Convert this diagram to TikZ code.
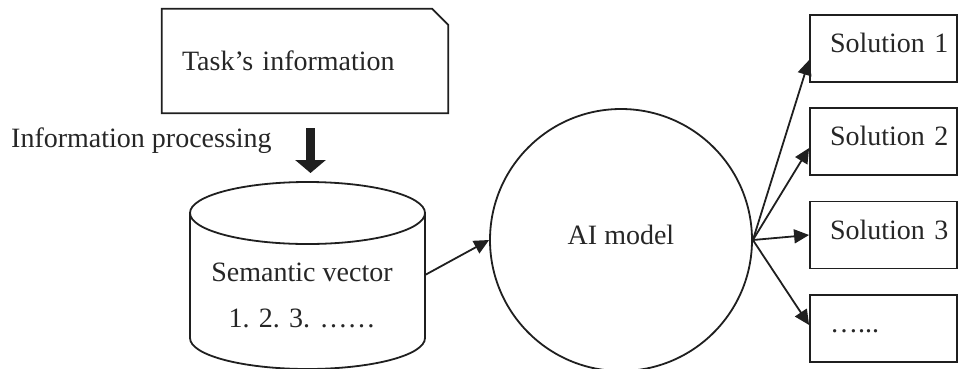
\documentclass[tikz,border=0pt]{standalone}
\usepackage{fontspec}
\setmainfont{Liberation Serif}
\usetikzlibrary{arrows.meta}
\begin{document}
\begin{tikzpicture}[x=1pt,y=-1pt,
  ink/.style={draw=black!88, line width=1.8pt},
  txt/.style={font=\fontsize{28}{46}\selectfont, text=black!85},
  solbox/.style={ink, txt, minimum width=147pt, minimum height=67pt, text width=137pt, align=left, inner xsep=5pt, inner ysep=0pt, text height=19pt, text depth=11pt},
  conn/.style={draw=black!88, line width=1.8pt, -{Triangle[length=15pt,width=14pt]}},
  blockarrow/.style={draw=black!88, line width=9pt, -{Triangle[width=30pt,length=13pt]}}]
\useasboundingbox (0,0) rectangle (959,368);

% task box
\node[txt, minimum height=104pt, text width=246pt, align=left, inner xsep=20pt, inner ysep=0pt] (task) at (305,61) {Task’s information};
\draw[ink] (task.north west) -- ([xshift=-16pt]task.north east) -- ([yshift=-16pt]task.north east) -- (task.south east) -- (task.south west) -- cycle;

% label
\node[txt, anchor=base west, inner sep=0pt] (proc) at (11,147) {Information processing};

% block arrow
\coordinate (ba1) at (310.5,128);
\coordinate (ba2) at (310.5,173);
\draw[blockarrow] (ba1) -- (ba2);

% cylinder
\draw[ink] (307.5,213) ellipse [x radius=117.5, y radius=31];
\draw[ink] (190,213) -- (190,338) arc[start angle=180, end angle=0, x radius=117.5, y radius=31] -- (425,213);
\node[txt, align=center, inner sep=0pt] (cyl) at (302,295.5) {Semantic vector\\1. 2. 3. ……};
\coordinate (cylout) at (425,275);

% AI model
\node[ink, txt, circle, minimum size=262pt, inner sep=0pt, text height=19pt, text depth=10pt] (ai) at (621,240) {AI model};

% solutions
\node[solbox] (s1) at (883.5,48.5) {\hspace*{15pt}\mbox{Solution 1}};
\node[solbox] (s2) at (883.5,141.5) {\hspace*{15pt}\mbox{Solution 2}};
\node[solbox] (s3) at (883.5,235) {\hspace*{15pt}\mbox{Solution 3}};
\node[solbox] (s4) at (883.5,328.5) {\hspace*{15pt}\mbox{…...}};

% connectors
\draw[conn] (cylout) -- (ai.west);
\draw[conn] (ai.east) -- ([yshift=-11.5pt]s1.west);
\draw[conn] (ai.east) -- ([yshift=-6.5pt]s2.west);
\draw[conn] (ai.east) -- (s3.west);
\draw[conn] (ai.east) -- ([yshift=3.5pt]s4.west);
\end{tikzpicture}
\end{document}
